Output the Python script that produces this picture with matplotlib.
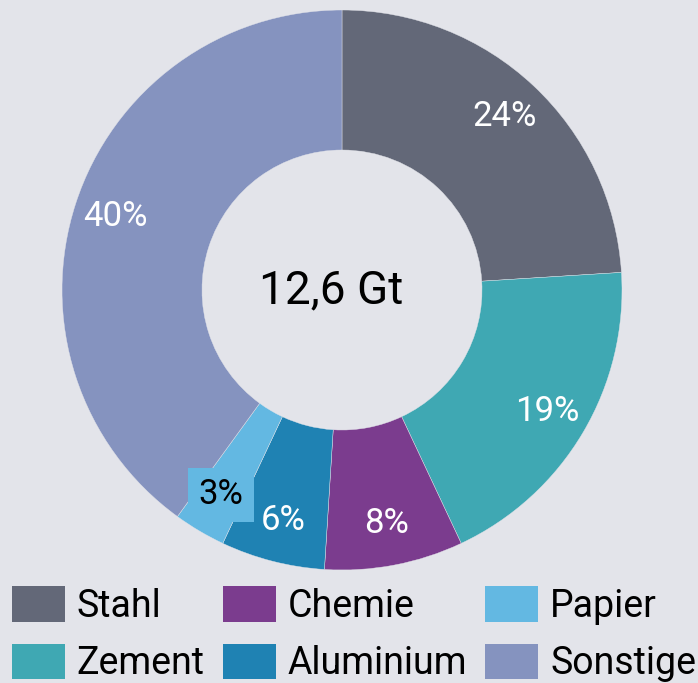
import matplotlib
matplotlib.use("Agg")
import matplotlib.pyplot as plt
import numpy as np

# data
labels = ["Stahl", "Zement", "Chemie", "Aluminium", "Papier", "Sonstige"]
shares = [24, 19, 8, 6, 3, 40]
colors = ["#636878", "#3fa8b3", "#7b3c8e", "#1f82b3", "#63b8e2", "#8593bf"]
total_text = "12,6 Gt"

bg = "#e3e4ea"
plt.rcParams["font.family"] = ["Roboto", "DejaVu Sans"]

fig = plt.figure(figsize=(6.98, 6.83), dpi=100, facecolor=bg)
# axes placed so the ring sits where it does in the picture
ax = fig.add_axes([(342 - 280) / 698, (683 - 290 - 280) / 683, 560 / 698, 560 / 683])
ax.set_facecolor(bg)

wedges, texts = ax.pie(shares, colors=colors, startangle=90, counterclock=False,
                       radius=1, wedgeprops=dict(width=0.5, edgecolor=bg, linewidth=0.3))
ax.set_xlim(-1, 1)
ax.set_ylim(-1, 1)
ax.axis("off")

for w, s in zip(wedges, shares):
    ang = np.deg2rad((w.theta1 + w.theta2) / 2)
    r = 0.85
    x, y = r * np.cos(ang), r * np.sin(ang)
    if s < 5:
        # small slice: dark text on a box in the slice colour
        ax.text(x, y, f"{s}%", ha="center", va="center", fontsize=25, color="black",
                bbox=dict(boxstyle="square,pad=0.3", fc=w.get_facecolor(), ec="none"))
    else:
        ax.text(x, y, f"{s}%", ha="center", va="center", fontsize=25, color="white")

ax.text(-0.04, 0, total_text, ha="center", va="center", fontsize=33, color="black")

handles = [plt.Rectangle((0, 0), 1, 1, fc=c, ec="none") for c in colors]
fig.legend(handles, labels, ncol=3, loc="lower left", bbox_to_anchor=(12 / 698, 1 / 683),
           frameon=False, fontsize=27, handlelength=1.41, handleheight=1.07,
           handletextpad=0.32, columnspacing=0.48, labelspacing=0.5,
           borderaxespad=0.0, borderpad=0.0)

fig.savefig("out.png", dpi=100, facecolor=bg)
